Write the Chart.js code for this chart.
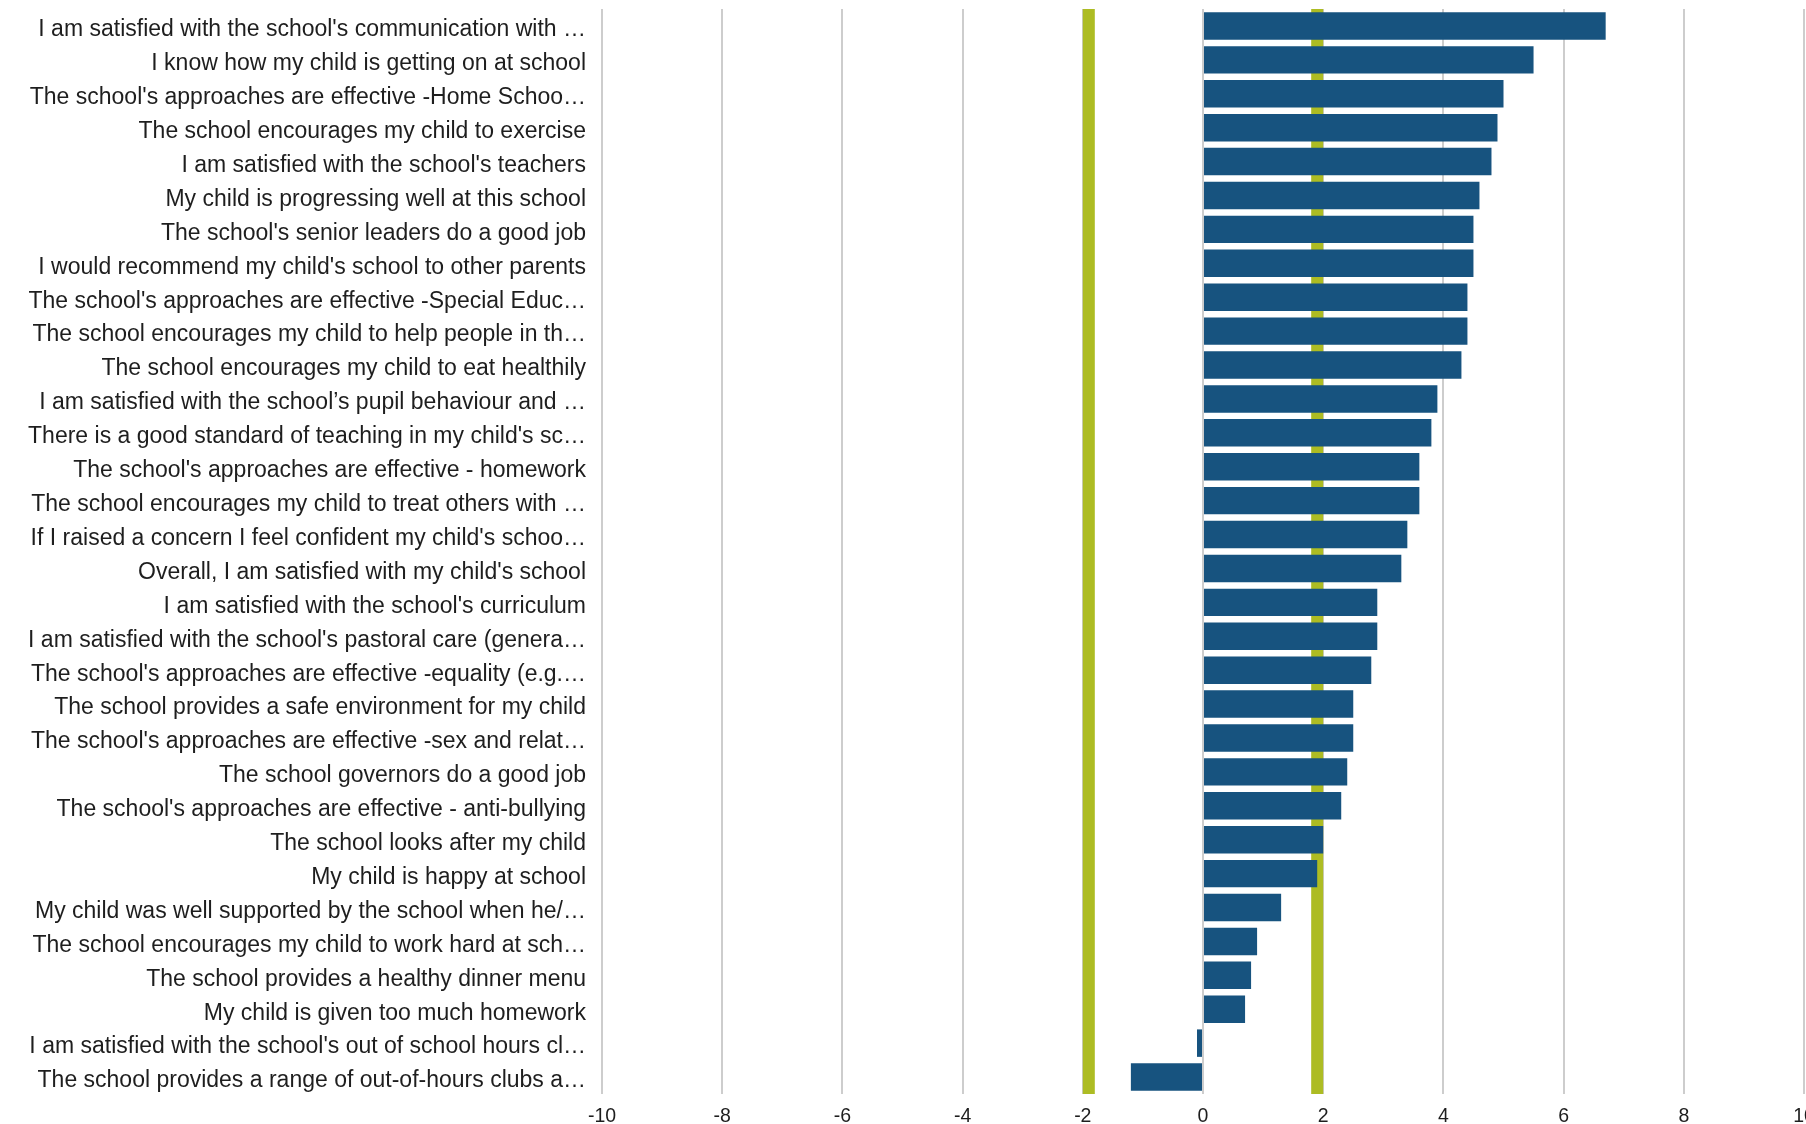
<!DOCTYPE html>
<html lang="en">
<head>
<meta charset="utf-8">
<title>Parent survey – difference from average</title>
<script src="https://cdn.jsdelivr.net/npm/chart.js@4.4.1/dist/chart.umd.min.js"></script>
<style>
  html, body { margin: 0; padding: 0; background: #fff; overflow: hidden; }
  #wrap { width: 1806px; height: 1124px; }
</style>
</head>
<body>
<div id="wrap"><canvas id="chart" width="1806" height="1124"></canvas></div>
<script>
'use strict';

// ── Data ───────────────────────────────────────
const LABELS = [
  "I am satisfied with the school's communication with …",
  "I know how my child is getting on at school",
  "The school's approaches are effective -Home Schoo…",
  "The school encourages my child to exercise",
  "I am satisfied with the school's teachers",
  "My child is progressing well at this school",
  "The school's senior leaders do a good job",
  "I would recommend my child's school to other parents",
  "The school's approaches are effective -Special Educ…",
  "The school encourages my child to help people in th…",
  "The school encourages my child to eat healthily",
  "I am satisfied with the school’s pupil behaviour and …",
  "There is a good standard of teaching in my child's sc…",
  "The school's approaches are effective - homework",
  "The school encourages my child to treat others with …",
  "If I raised a concern I feel confident my child's schoo…",
  "Overall, I am satisfied with my child's school",
  "I am satisfied with the school's curriculum",
  "I am satisfied with the school's pastoral care (genera…",
  "The school's approaches are effective -equality (e.g.…",
  "The school provides a safe environment for my child",
  "The school's approaches are effective -sex and relat…",
  "The school governors do a good job",
  "The school's approaches are effective - anti-bullying",
  "The school looks after my child",
  "My child is happy at school",
  "My child was well supported by the school when he/…",
  "The school encourages my child to work hard at sch…",
  "The school provides a healthy dinner menu",
  "My child is given too much homework",
  "I am satisfied with the school's out of school hours cl…",
  "The school provides a range of out-of-hours clubs a…",
];

const VALUES = [
  6.7, 5.5, 5.0, 4.9, 4.8, 4.6, 4.5, 4.5,
  4.4, 4.4, 4.3, 3.9, 3.8, 3.6, 3.6, 3.4,
  3.3, 2.9, 2.9, 2.8, 2.5, 2.5, 2.4, 2.3,
  2.0, 1.9, 1.3, 0.9, 0.8, 0.7, -0.1, -1.2,
];

// significance band edges (green verticals)
const THRESHOLDS = [-1.9, 1.9];

const X_MIN = -10;
const X_MAX = 10;
const X_STEP = 2;

// ── Colours ────────────────────────────────────
const BAR_COLOR   = '#17537f';
const BAND_COLOR  = '#adbc23';
const GRID_COLOR  = '#cdcdcd';
const TEXT_COLOR  = '#1e1e1e';
const FONT        = '"Liberation Sans", Arial, sans-serif';

// ── Green threshold lines, behind the bars ─────
const thresholdLines = {
  id: 'thresholdLines',
  beforeDatasetsDraw(chart) {
    const { ctx, chartArea, scales } = chart;
    ctx.save();
    ctx.strokeStyle = BAND_COLOR;
    ctx.lineWidth = 12;
    THRESHOLDS.forEach(v => {
      const x = scales.x.getPixelForValue(v);
      ctx.beginPath();
      ctx.moveTo(x, chartArea.top);
      ctx.lineTo(x, chartArea.bottom);
      ctx.stroke();
    });
    ctx.restore();
  },
};

// ── Chart ──────────────────────────────────────
new Chart(document.getElementById('chart'), {
  type: 'bar',
  data: {
    labels: LABELS,
    datasets: [{
      data: VALUES,
      backgroundColor: BAR_COLOR,
      borderWidth: 0,
      barPercentage: 0.81,
      categoryPercentage: 1.0,
    }],
  },
  options: {
    indexAxis: 'y',
    responsive: false,
    animation: false,
    layout: { padding: { top: 9, right: 2, left: 0, bottom: 0 } },
    plugins: {
      legend: { display: false },
      tooltip: { enabled: false },
    },
    scales: {
      x: {
        min: X_MIN,
        max: X_MAX,
        grid: { color: GRID_COLOR, lineWidth: 2, drawTicks: false },
        border: { display: false },
        ticks: {
          stepSize: X_STEP,
          padding: 11,
          maxRotation: 0,
          color: TEXT_COLOR,
          font: { family: FONT, size: 19.5 },
        },
        afterFit(scale) {
          scale.height = 30;
          scale.paddingLeft = 0;
          scale.paddingRight = 0;
        },
      },
      y: {
        grid: { display: false, drawTicks: false },
        border: { display: false },
        ticks: {
          autoSkip: false,
          padding: 16,
          labelOffset: 4,
          color: TEXT_COLOR,
          font: { family: FONT, size: 23 },
        },
        afterFit(scale) {
          scale.width = 602;
          scale.paddingTop = 0;
          scale.paddingBottom = 0;
        },
      },
    },
  },
  plugins: [thresholdLines],
});
</script>
</body>
</html>
